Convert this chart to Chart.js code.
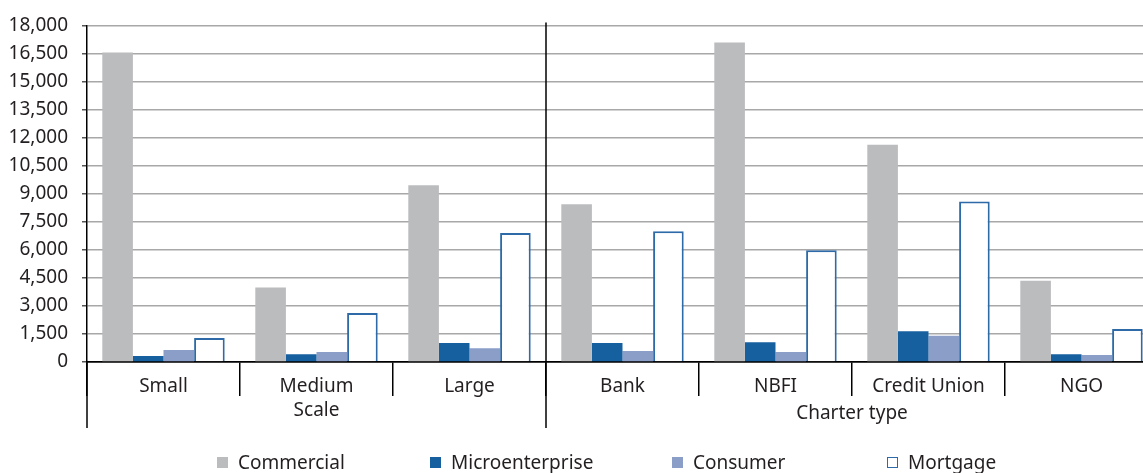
<!DOCTYPE html>
<html>
<head>
<meta charset="utf-8">
<script src="https://cdn.jsdelivr.net/npm/chart.js@4"></script>
<style>
  body { margin: 0; overflow: hidden; background: #fff; font-family: 'Noto Sans', sans-serif; }
  #wrap { position: relative; width: 1210px; height: 473px; }
  #chart { display: block; }
  #legend { position: absolute; left: 217px; top: 449px; display: grid;
            grid-template-columns: 213px 242px 215px auto; font-size: 19px; color: #231f20; }
  .item { display: flex; align-items: center; white-space: nowrap; }
  .box { width: 11px; height: 11px; margin-right: 10px; box-sizing: border-box; }
</style>
</head>
<body>
<div id="wrap">
  <canvas id="chart" width="1210" height="473"></canvas>
  <div id="legend"></div>
</div>
<script>
// categories and group labels
let categories = ["Small", ["Medium", "Scale"], "Large", "Bank", "NBFI", "Credit Union", "NGO"];
let groupLabels = ["", "Charter type"];
let groupStarts = [0, 3];

// series values
let commercial = [16550, 3980, 9450, 8440, 17080, 11620, 4350];
let microenterprise = [320, 420, 1010, 1010, 1060, 1650, 420];
let consumer = [640, 530, 740, 590, 530, 1400, 370];
let mortgage = [1290, 2620, 6900, 6990, 5980, 8580, 1770];

// y axis ticks
let yMin = 0;
let yMax = 18000;
let yStep = 1500;

let textColor = "#231f20";
Chart.defaults.font.family = "'Noto Sans', sans-serif";
Chart.defaults.font.size = 19;
Chart.defaults.color = textColor;

// lines between the groups of categories, and the group titles
const groupLines = {
    id: "groupLines",
    afterDraw(chart) {
        let ctx = chart.ctx;
        let area = chart.chartArea;
        let x = chart.scales.x;
        let lineBottom = area.bottom + 66;
        ctx.save();
        ctx.strokeStyle = "#000";
        ctx.lineWidth = 1.5;
        for (let i = 0; i < groupStarts.length; i++) {
            let start = groupStarts[i];
            let left = start === 0 ? area.left
                : (x.getPixelForValue(start - 1) + x.getPixelForValue(start)) / 2;
            let end = i + 1 < groupStarts.length ? groupStarts[i + 1] : categories.length;
            let right = end === categories.length ? area.right
                : (x.getPixelForValue(end - 1) + x.getPixelForValue(end)) / 2;
            ctx.beginPath();
            ctx.moveTo(left, start === 0 ? area.bottom : area.top - 3);
            ctx.lineTo(left, lineBottom);
            ctx.stroke();
            if (groupLabels[i]) {
                ctx.fillStyle = textColor;
                ctx.font = "19px 'Noto Sans'";
                ctx.textAlign = "center";
                ctx.textBaseline = "middle";
                ctx.fillText(groupLabels[i], (left + right) / 2, area.bottom + 52);
            }
        }
        ctx.restore();
    }
};

let chart = new Chart(document.getElementById("chart"), {
    type: "bar",
    data: {
        labels: categories,
        datasets: [
            {label: "Commercial", data: commercial, backgroundColor: "#bbbcbe", borderWidth: 0},
            {label: "Microenterprise", data: microenterprise, backgroundColor: "#17609f", borderWidth: 0},
            {label: "Consumer", data: consumer, backgroundColor: "#8a9ec8", borderWidth: 0},
            {label: "Mortgage", data: mortgage, backgroundColor: "#ffffff", borderColor: "#2e6aa8", borderWidth: 2}
        ]
    },
    options: {
        responsive: false,
        animation: false,
        categoryPercentage: 0.8,
        barPercentage: 1.0,
        layout: {padding: {top: 20, left: 0, right: 0, bottom: 0}},
        plugins: {
            legend: {display: false},
            tooltip: {enabled: false}
        },
        scales: {
            x: {
                offset: true,
                grid: {
                    offset: true,
                    drawOnChartArea: false,
                    drawTicks: true,
                    tickLength: 34,
                    color: "#000",
                    lineWidth: 1.5
                },
                border: {display: true, color: "#000", width: 1.5},
                ticks: {padding: -21, color: textColor, font: {size: 19, lineHeight: 1.25}, maxRotation: 0, autoSkip: false},
                afterFit: function (scale) { scale.height = 111; }
            },
            y: {
                min: yMin,
                max: yMax,
                ticks: {
                    stepSize: yStep,
                    padding: 14,
                    color: textColor,
                    callback: function (v) { return v.toLocaleString("en-US"); }
                },
                grid: {
                    color: function (c) { return c.tick && c.tick.value === 0 ? "#000" : "#a8a8a8"; },
                    lineWidth: 1.5,
                    tickColor: "#555",
                    tickLength: 5
                },
                border: {display: true, color: "#000", width: 1.5},
                afterFit: function (scale) { scale.width = 87; }
            },
            y2: {
                type: "linear",
                position: "right",
                ticks: {display: false},
                grid: {display: false},
                border: {display: false},
                afterFit: function (scale) { scale.width = 52; }
            }
        }
    },
    plugins: [groupLines]
});

// html legend built from the datasets
let legendDiv = document.getElementById("legend");
for (let ds of chart.data.datasets) {
    let item = document.createElement("div");
    item.className = "item";
    let box = document.createElement("span");
    box.className = "box";
    box.style.background = ds.backgroundColor;
    if (ds.borderWidth) {
        box.style.border = "1.5px solid " + ds.borderColor;
    }
    item.append(box, ds.label);
    legendDiv.appendChild(item);
}
</script>
</body>
</html>
